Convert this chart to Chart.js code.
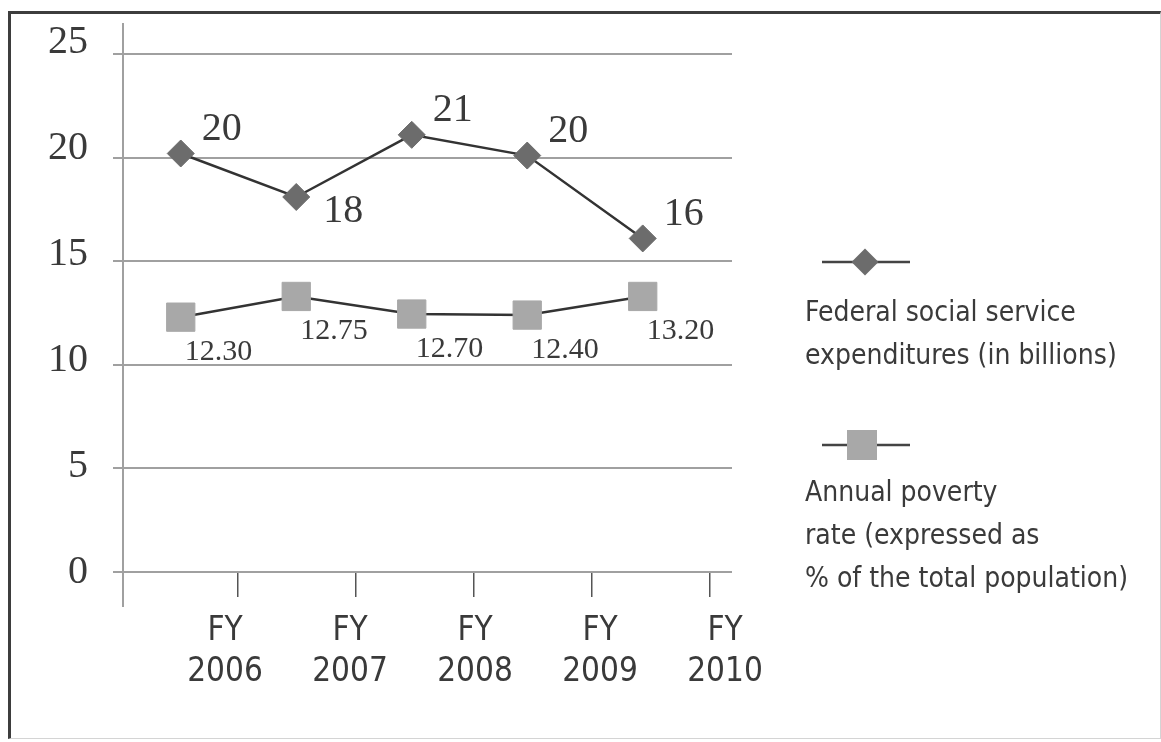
<!DOCTYPE html>
<html>
<head>
<meta charset="utf-8">
<title>Federal social service expenditures and annual poverty rate</title>
<script src="https://cdn.jsdelivr.net/npm/chart.js@4.4.1/dist/chart.umd.min.js"></script>
<style>
    html, body { margin: 0; padding: 0; background: #fff; }
    #wrap { position: relative; width: 1161px; height: 742px; overflow: hidden; }
    #frame {
        position: absolute; left: 8px; top: 11px; width: 1149px; height: 724px;
        border-top: 3px solid #3d3d3d; border-left: 3px solid #3d3d3d;
        border-right: 1px solid #d4d4d4; border-bottom: 1px solid #d4d4d4;
    }
    canvas { position: absolute; left: 0; top: 0; }
    .legend-text {
        position: absolute; left: 805px;
        font-family: "Liberation Sans Narrow", "DejaVu Sans Condensed", sans-serif;
        font-size: 28px; line-height: 43px; color: #3a3a3a; white-space: nowrap;
    }
    .legend-swatch { position: absolute; left: 822px; }
</style>
</head>
<body>
<div id="wrap">
    <div id="frame"></div>
    <canvas id="povertyChart" width="1161" height="742"></canvas>
    <div id="legend"></div>
</div>
<script>
// values
const fiscalYears = ["FY 2006", "FY 2007", "FY 2008", "FY 2009", "FY 2010"];
const expenditures = [20.2, 18.1, 21.1, 20.1, 16.1];
const povertyRate = [12.3, 13.3, 12.45, 12.4, 13.3];
const povertyLabels = ["12.30", "12.75", "12.70", "12.40", "13.20"];
const yTicks = [0, 5, 10, 15, 20, 25];
const expenditureName = ["Federal social service", "expenditures (in billions)"];
const povertyName = ["Annual poverty", "rate (expressed as", "% of the total population)"];

const GRID = "#a0a0a0";
const INK = "#3a3a3a";
const SERIF = '"Liberation Serif", "Times New Roman", serif';
const NARROW = '"Liberation Sans Narrow", "DejaVu Sans Condensed", sans-serif';

// value labels next to the markers
const valueLabels = {
    id: "valueLabels",
    afterDatasetsDraw(chart) {
        const ctx = chart.ctx;
        ctx.save();
        ctx.fillStyle = INK;
        ctx.textAlign = "left";
        ctx.textBaseline = "middle";

        ctx.font = "40px " + SERIF;
        chart.getDatasetMeta(0).data.forEach((pt, i) => {
            const prev = expenditures[i - 1];
            const next = expenditures[i + 1];
            const dip = prev !== undefined && next !== undefined &&
                expenditures[i] < prev && expenditures[i] < next;
            ctx.fillText(String(Math.round(expenditures[i])),
                pt.x + (dip ? 27 : 21), pt.y + (dip ? 15 : -24));
        });

        ctx.font = "30px " + SERIF;
        chart.getDatasetMeta(1).data.forEach((pt, i) => {
            ctx.fillText(povertyLabels[i], pt.x + 4, pt.y + 35);
        });
        ctx.restore();
    },
};

// the value axis runs a bit past the category axis at the bottom
const axisStub = {
    id: "axisStub",
    afterDatasetsDraw(chart) {
        const { ctx, chartArea } = chart;
        ctx.save();
        ctx.strokeStyle = GRID;
        ctx.lineWidth = 2;
        ctx.beginPath();
        ctx.moveTo(chartArea.left, chartArea.bottom);
        ctx.lineTo(chartArea.left, chartArea.bottom + 35);
        ctx.stroke();
        ctx.restore();
    },
};

const onlyTicks = (values) => (scale) => {
    scale.ticks = values.map((v) => ({ value: v }));
};
const fixSize = (prop, size) => (scale) => {
    scale[prop] = size;
    scale.paddingTop = 0;
    scale.paddingBottom = 0;
    scale.paddingLeft = 0;
    scale.paddingRight = 0;
};

new Chart(document.getElementById("povertyChart"), {
    type: "line",
    data: {
        datasets: [
            {
                label: expenditureName.join(" "),
                data: expenditures.map((v, i) => ({ x: i + 0.5, y: v })),
                borderColor: "#333",
                borderWidth: 2.5,
                pointStyle: "rectRot",
                pointRadius: 13.5,
                pointBackgroundColor: "#6c6c6c",
                pointBorderColor: "#6c6c6c",
                pointBorderWidth: 1,
                tension: 0,
            },
            {
                label: povertyName.join(" "),
                data: povertyRate.map((v, i) => ({ x: i + 0.5, y: v })),
                borderColor: "#333",
                borderWidth: 2.5,
                pointStyle: "rect",
                pointRadius: 20,
                pointBackgroundColor: "#a8a8a8",
                pointBorderColor: "#a8a8a8",
                pointBorderWidth: 1,
                tension: 0,
            },
        ],
    },
    options: {
        responsive: false,
        animation: false,
        events: [],
        layout: { padding: { left: 0, top: 24, right: 429, bottom: 0 } },
        plugins: { legend: { display: false }, tooltip: { enabled: false } },
        scales: {
            x: { type: "linear", display: false, min: 0, max: 5.273 },
            xt: {
                type: "linear", position: "bottom", weight: 0,
                min: 0.0254, max: 5.186,
                afterBuildTicks: onlyTicks([1, 2, 3, 4, 5]),
                afterFit: fixSize("height", 25),
                grid: { drawOnChartArea: false, drawTicks: true, tickLength: 25, color: "#555", lineWidth: 1.5 },
                border: { display: false },
                ticks: { display: false },
            },
            xl: {
                type: "linear", position: "bottom", weight: 1,
                min: 0.184, max: 5.056,
                afterBuildTicks: onlyTicks([1, 2, 3, 4, 5]),
                afterFit: fixSize("height", 145),
                grid: { display: false, drawTicks: false, tickLength: 0 },
                border: { display: false },
                ticks: {
                    autoSkip: false, maxRotation: 0, padding: 13, color: INK,
                    font: { family: NARROW, size: 33, lineHeight: 1.27 },
                    callback: (v) => (fiscalYears[v - 1] || "").split(" "),
                },
            },
            y: {
                type: "linear", position: "left", weight: 0,
                min: 0, max: 26.45,
                afterBuildTicks: onlyTicks(yTicks),
                afterFit: fixSize("width", 10),
                grid: { color: GRID, lineWidth: 2, drawTicks: true, tickLength: 10 },
                border: { display: true, color: GRID, width: 2 },
                ticks: { display: false },
            },
            yl: {
                type: "linear", position: "left", weight: 1,
                min: 0, max: 25.89,
                afterBuildTicks: onlyTicks(yTicks),
                afterFit: fixSize("width", 113),
                grid: { display: false, drawTicks: false, tickLength: 0 },
                border: { display: false },
                ticks: { padding: 25, color: INK, font: { family: SERIF, size: 40 } },
            },
        },
    },
    plugins: [valueLabels, axisStub],
});

// legend beside the plot
const legend = document.getElementById("legend");
function swatch(top, shape) {
    const ns = "http://www.w3.org/2000/svg";
    const svg = document.createElementNS(ns, "svg");
    svg.setAttribute("class", "legend-swatch");
    svg.setAttribute("width", "88");
    svg.setAttribute("height", "32");
    svg.style.top = top + "px";
    const line = document.createElementNS(ns, "line");
    line.setAttribute("x1", "0"); line.setAttribute("x2", "88");
    line.setAttribute("y1", "16"); line.setAttribute("y2", "16");
    line.setAttribute("stroke", "#444"); line.setAttribute("stroke-width", "2.5");
    svg.appendChild(line);
    svg.appendChild(shape(ns));
    legend.appendChild(svg);
}
function legendText(top, lines) {
    const div = document.createElement("div");
    div.className = "legend-text";
    div.style.top = top + "px";
    div.innerHTML = lines.join("<br>");
    legend.appendChild(div);
}
swatch(246, (ns) => {
    const p = document.createElementNS(ns, "polygon");
    p.setAttribute("points", "43,2.5 56.5,16 43,29.5 29.5,16");
    p.setAttribute("fill", "#6c6c6c");
    return p;
});
legendText(290, expenditureName);
swatch(429, (ns) => {
    const r = document.createElementNS(ns, "rect");
    r.setAttribute("x", "25"); r.setAttribute("y", "1");
    r.setAttribute("width", "30"); r.setAttribute("height", "30");
    r.setAttribute("fill", "#a8a8a8");
    return r;
});
legendText(470, povertyName);
</script>
</body>
</html>
